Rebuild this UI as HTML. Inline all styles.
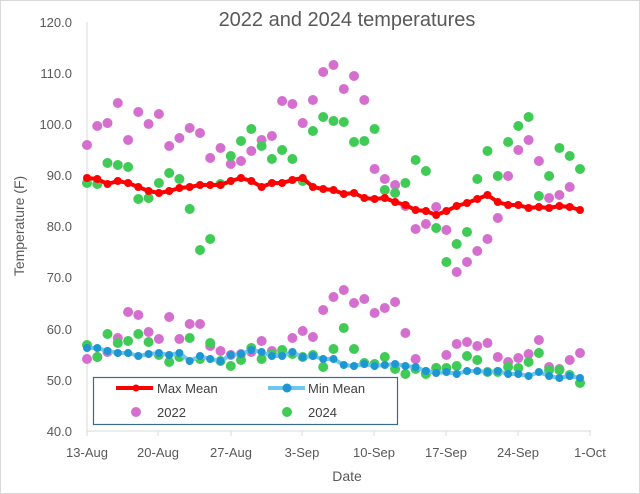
<!DOCTYPE html>
<html><head><meta charset="utf-8"><style>
html,body{margin:0;padding:0;background:#fff}
svg{display:block;font-family:"Liberation Sans",sans-serif}
</style></head><body>
<svg id="s" width="640" height="494" viewBox="0 0 640 494" xmlns="http://www.w3.org/2000/svg">
<rect x="0.5" y="0.5" width="639" height="493" fill="#fff" stroke="#d9d9d9"/>
<text x="347" y="26" text-anchor="middle" font-size="20" fill="#595959">2022 and 2024 temperatures</text>
<g font-size="13" fill="#595959" text-anchor="end">
<text x="72" y="27">120.0</text><text x="72" y="78">110.0</text><text x="72" y="129">100.0</text>
<text x="72" y="180">90.0</text><text x="72" y="231">80.0</text><text x="72" y="282">70.0</text>
<text x="72" y="334">60.0</text><text x="72" y="385">50.0</text><text x="72" y="436">40.0</text>
</g>
<text transform="translate(24,226) rotate(-90)" text-anchor="middle" font-size="14" fill="#595959">Temperature (F)</text>
<g font-size="13" fill="#595959" text-anchor="middle">
<text x="87" y="457">13-Aug</text><text x="158" y="457">20-Aug</text><text x="231" y="457">27-Aug</text>
<text x="302" y="457">3-Sep</text><text x="374" y="457">10-Sep</text><text x="446" y="457">17-Sep</text>
<text x="518" y="457">24-Sep</text><text x="590" y="457">1-Oct</text>
</g>
<text x="347" y="481" text-anchor="middle" font-size="14" fill="#595959">Date</text>
<line x1="87" y1="22" x2="87" y2="431" stroke="#d9d9d9"/>
<line x1="87" y1="431" x2="591" y2="431" stroke="#d9d9d9"/>
<g id="ticks" stroke="#d9d9d9"></g>
<g id="data"></g>
<rect x="93.5" y="377.5" width="304" height="47" fill="#fff" stroke="#3a6b8a" stroke-width="1.2"/>
<line x1="116" y1="388" x2="153" y2="388" stroke="#f00" stroke-width="4"/>
<circle cx="136" cy="388" r="3.5" fill="#f00"/>
<text x="157" y="393" font-size="13" fill="#404040">Max Mean</text>
<line x1="268" y1="388" x2="305" y2="388" stroke="#6ec8ee" stroke-width="4"/>
<circle cx="287" cy="388" r="4.5" fill="#1e96d2"/>
<text x="308" y="393" font-size="13" fill="#404040">Min Mean</text>
<circle cx="136" cy="412" r="5" fill="#d56fcf"/>
<text x="157" y="417" font-size="13" fill="#404040">2022</text>
<circle cx="287" cy="412" r="5" fill="#3fcb55"/>
<text x="308" y="417" font-size="13" fill="#404040">2024</text>
</svg>
<script>
var NS="http://www.w3.org/2000/svg";
var t=document.getElementById("ticks");
[87,158,231,302,374,446,518,590].forEach(function(x){var l=document.createElementNS(NS,"line");l.setAttribute("x1",x);l.setAttribute("x2",x);l.setAttribute("y1",431);l.setAttribute("y2",436);t.appendChild(l);});
var g=document.getElementById("data");
function X(i){return 87+10.27*i;}
function dots(arr,col,r){arr.forEach(function(y,i){if(y==null)return;var c=document.createElementNS(NS,"circle");c.setAttribute("cx",X(i).toFixed(1));c.setAttribute("cy",y);c.setAttribute("r",r);c.setAttribute("fill",col);g.appendChild(c);});}
function line(arr,col,w){var p=document.createElementNS(NS,"polyline");p.setAttribute("points",arr.map(function(y,i){return X(i).toFixed(1)+","+y}).join(" "));p.setAttribute("fill","none");p.setAttribute("stroke",col);p.setAttribute("stroke-width",w);p.setAttribute("stroke-linejoin","round");g.appendChild(p);}
var pU=[145,126,123,103,140,112,124,114,146,138,128,133,158,148,164,161,151,140,136,101,104,123,100,72,65,89,76,100,169,179,185,206,229,224,207,230,272,262,251,239,218,176,150,140,161,198,195,187];
var gU=[183,184,163,165,167,199,198,183,173,179,209,250,239,184,156,141,129,146,159,150,159,181,131,117,121,122,142,141,129,190,193,183,160,171,228,262,244,232,179,151,176,142,126,117,196,176,148,156,169];
var pL=[359,357,352,338,312,315,332,339,317,339,324,324,346,351,355,354,352,341,351,354,338,331,337,310,297,290,303,299,313,308,302,333,359,372,368,355,344,342,346,343,357,362,358,354,340,367,369,360,353];
var gL=[345,357,334,343,341,334,342,355,362,357,338,359,343,361,366,360,348,359,354,350,354,357,355,367,349,328,349,363,364,357,369,374,369,374,368,368,366,356,360,372,372,367,368,362,353,370,370,375,383];
var mx=[178,179,184,181,183,187,191,193,191,188,187,185,185,185,181,178,181,187,183,183,180,178,187,189,190,194,193,198,199,198,202,205,210,211,215,211,206,203,199,195,202,205,205,208,207,208,206,207,210];
var mn=[348,348,351,353,353,356,354,353,355,353,361,356,359,361,355,354,350,352,356,356,352,357,356,359,359,365,366,364,366,365,364,366,367,371,373,372,374,371,371,372,371,374,374,376,372,376,378,376,378];
dots(pU,"#d56fcf",5);dots(gU,"#3fcb55",5);dots(pL,"#d56fcf",5);dots(gL,"#3fcb55",5);
line(mx,"#f00",4);dots(mx,"#f00",4);
line(mn,"#6ec8ee",4);dots(mn,"#1e96d2",4);
</script>
</body></html>
